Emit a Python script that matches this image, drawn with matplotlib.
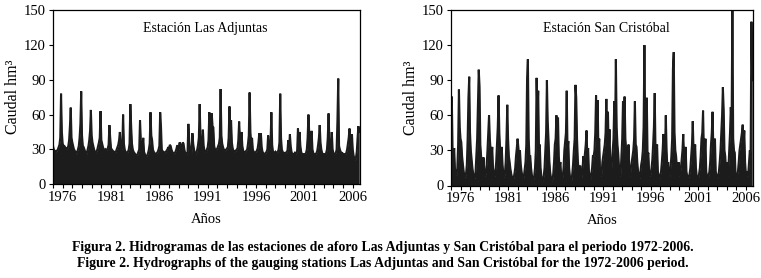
import numpy as np
import matplotlib
matplotlib.use("Agg")
import matplotlib.pyplot as plt
from matplotlib.ticker import FixedLocator, MultipleLocator

plt.rcParams['font.family'] = ['Liberation Serif', 'DejaVu Serif']

# Monthly discharge (hm3), Jan 1975 .. Sep 2006, one row per year (Jan..Dec)
adjuntas_rows = [
    [33, 30, 29, 28, 28, 29, 30, 32, 34, 40, 78, 45],   # 1975
    [35, 33, 33, 32, 31, 30, 31, 33, 38, 50, 66, 40],   # 1976
    [36, 33, 30, 29, 27, 26, 28, 30, 33, 40, 52, 80],   # 1977
    [42, 33, 32, 30, 28, 24, 27, 30, 33, 38, 46, 64],   # 1978
    [42, 36, 33, 30, 28, 27, 28, 30, 33, 36, 40, 63],   # 1979
    [38, 35, 32, 30, 29, 30, 29, 30, 31, 34, 51, 40],   # 1980
    [31, 30, 29, 28, 28, 27, 28, 30, 32, 34, 38, 45],   # 1981
    [33, 30, 33, 60, 35, 30, 28, 27, 27, 28, 30, 35],   # 1982
    [69, 50, 35, 30, 28, 27, 26, 25, 25, 26, 28, 30],   # 1983
    [55, 38, 33, 30, 40, 28, 26, 24, 24, 25, 27, 30],   # 1984
    [35, 62, 42, 38, 30, 28, 27, 26, 26, 27, 28, 30],   # 1985
    [33, 62, 50, 30, 28, 28, 27, 27, 28, 29, 30, 32],   # 1986
    [30, 34, 33, 30, 28, 27, 26, 27, 28, 30, 33, 33],   # 1987
    [30, 36, 35, 30, 28, 36, 35, 30, 27, 26, 26, 28],   # 1988
    [52, 38, 30, 28, 27, 44, 35, 30, 27, 26, 27, 30],   # 1989
    [34, 40, 69, 42, 33, 30, 47, 33, 29, 28, 28, 30],   # 1990
    [32, 38, 62, 40, 35, 61, 50, 49, 33, 30, 29, 30],   # 1991
    [31, 33, 35, 40, 82, 42, 35, 32, 30, 29, 29, 30],   # 1992
    [31, 32, 40, 67, 45, 55, 36, 31, 29, 28, 28, 29],   # 1993
    [30, 31, 38, 54, 40, 35, 45, 33, 29, 28, 27, 28],   # 1994
    [29, 30, 35, 42, 79, 45, 35, 40, 30, 28, 27, 27],   # 1995
    [28, 29, 31, 36, 44, 33, 44, 32, 28, 27, 26, 26],   # 1996
    [27, 28, 30, 42, 33, 30, 36, 62, 34, 28, 27, 27],   # 1997
    [28, 27, 27, 28, 30, 36, 78, 40, 30, 28, 27, 27],   # 1998
    [27, 27, 28, 29, 38, 32, 43, 33, 28, 26, 26, 26],   # 1999
    [27, 26, 27, 29, 48, 36, 45, 33, 28, 26, 26, 26],   # 2000
    [26, 26, 27, 30, 40, 60, 44, 36, 32, 46, 30, 27],   # 2001
    [26, 26, 26, 27, 29, 34, 40, 51, 36, 30, 27, 26],   # 2002
    [26, 26, 26, 27, 30, 40, 61, 38, 33, 30, 45, 30],   # 2003
    [27, 26, 26, 27, 30, 55, 91, 33, 30, 28, 27, 27],   # 2004
    [26, 26, 26, 26, 27, 30, 35, 40, 48, 34, 33, 43],   # 2005
    [30, 25, 22, 21, 23, 28, 40, 50, 45],               # 2006
]

sancristobal_rows = [
    [55, 76, 30, 22, 32, 14, 10, 9, 15, 35, 82, 50],    # 1975
    [40, 37, 25, 18, 12, 8, 7, 10, 18, 40, 75, 93],     # 1976
    [45, 30, 22, 15, 10, 7, 6, 12, 26, 40, 70, 99],     # 1977
    [85, 35, 25, 18, 15, 24, 12, 8, 10, 18, 30, 45],    # 1978
    [60, 40, 30, 22, 33, 15, 10, 8, 12, 20, 35, 50],    # 1979
    [77, 45, 30, 22, 33, 18, 10, 7, 10, 20, 40, 69],    # 1980
    [40, 25, 20, 14, 10, 7, 5, 6, 10, 15, 25, 32],      # 1981
    [40, 32, 25, 30, 18, 12, 8, 5, 8, 14, 20, 35],      # 1982
    [92, 108, 40, 25, 25, 15, 9, 6, 5, 8, 15, 30],      # 1983
    [92, 60, 81, 30, 35, 15, 8, 5, 4, 8, 15, 30],       # 1984
    [45, 90, 55, 40, 22, 12, 7, 5, 4, 10, 20, 35],      # 1985
    [40, 60, 35, 58, 25, 15, 20, 8, 5, 8, 15, 30],      # 1986
    [38, 45, 81, 30, 38, 15, 8, 5, 4, 10, 18, 30],      # 1987
    [40, 86, 75, 40, 22, 12, 8, 17, 5, 8, 15, 25],      # 1988
    [20, 28, 35, 47, 25, 32, 12, 7, 5, 10, 15, 25],     # 1989
    [25, 30, 45, 77, 40, 73, 30, 40, 12, 8, 10, 20],    # 1990
    [25, 30, 35, 45, 74, 40, 63, 30, 48, 15, 10, 20],   # 1991
    [30, 40, 72, 45, 108, 50, 35, 27, 15, 8, 10, 25],   # 1992
    [40, 72, 50, 76, 40, 30, 25, 20, 35, 12, 8, 15],    # 1993
    [20, 25, 30, 40, 72, 35, 33, 20, 12, 8, 6, 12],     # 1994
    [18, 22, 30, 50, 120, 45, 35, 75, 25, 28, 10, 8],   # 1995
    [10, 15, 22, 35, 50, 79, 30, 25, 35, 12, 8, 6],     # 1996
    [8, 12, 20, 30, 44, 35, 30, 60, 30, 15, 20, 8],     # 1997
    [8, 15, 25, 40, 100, 114, 45, 30, 25, 15, 10, 20],  # 1998
    [8, 10, 15, 22, 30, 44, 25, 20, 33, 12, 8, 6],      # 1999
    [7, 10, 15, 25, 35, 55, 30, 22, 35, 15, 8, 6],      # 2000
    [6, 10, 15, 25, 40, 45, 64, 30, 25, 40, 12, 8],     # 2001
    [6, 8, 12, 20, 35, 45, 63, 30, 28, 40, 12, 8],      # 2002
    [6, 8, 12, 20, 30, 45, 60, 84, 65, 30, 25, 12],     # 2003
    [20, 8, 15, 30, 45, 67, 50, 158, 40, 30, 28, 10],   # 2004
    [6, 8, 12, 20, 30, 35, 40, 45, 52, 35, 47, 20],     # 2005
    [10, 12, 8, 10, 20, 30, 25, 140, 90],               # 2006
]

start_year = 1975
station_titles = ["Estación Las Adjuntas", "Estación San Cristóbal"]
year_labels = [1976, 1981, 1986, 1991, 1996, 2001, 2006]
y_ticks = [0, 30, 60, 90, 120, 150]
y_label = "Caudal hm³"
x_label = "Años"
caption_es = "Figura 2. Hidrogramas de las estaciones de aforo Las Adjuntas y San Cristóbal para el periodo 1972-2006."
caption_en = "Figure 2. Hydrographs of the gauging stations Las Adjuntas and San Cristóbal for the 1972-2006 period."

series = [np.concatenate([np.array(r, float) for r in adjuntas_rows]),
          np.concatenate([np.array(r, float) for r in sancristobal_rows])]

fig = plt.figure(figsize=(7.61, 2.78), dpi=100)
rects = [[53/761, 1 - 184.3/278, 307/761, 174.3/278],
         [451/761, 1 - 185.5/278, 302/761, 175.5/278]]
title_x = [0.497, 0.513]

for k in range(2):
    ax = fig.add_axes(rects[k])
    y = series[k]
    t = start_year + np.arange(len(y)) / 12.0
    ax.fill_between(t, 0, y, color='#1c1c1c', linewidth=0)
    ax.plot(t, y, color='#1c1c1c', linewidth=1.5, solid_joinstyle='miter')
    ax.set_xlim(start_year, 2006.75)
    ax.set_ylim(0, 150)
    ax.set_yticks(y_ticks)
    ax.xaxis.set_major_locator(FixedLocator(year_labels))
    ax.xaxis.set_minor_locator(MultipleLocator(1))
    ax.set_xticklabels([str(v) for v in year_labels])
    ax.tick_params(axis='both', which='both', direction='out', length=3,
                   width=0.8, labelsize=10.5, pad=2)
    for s in ax.spines.values():
        s.set_linewidth(0.9)
    ax.set_ylabel(y_label, fontsize=11.5, labelpad=2)
    ax.set_xlabel(x_label, fontsize=10.5, labelpad=6)
    ax.text(title_x[k], 0.895, station_titles[k], transform=ax.transAxes,
            ha='center', va='center', fontsize=10)

fig.text(0.503, 1 - 248/278, caption_es, ha='center', va='center',
         fontsize=9.9, fontweight='bold')
fig.text(0.503, 1 - 263/278, caption_en, ha='center', va='center',
         fontsize=9.9, fontweight='bold')

fig.savefig("out.png", dpi=100)
